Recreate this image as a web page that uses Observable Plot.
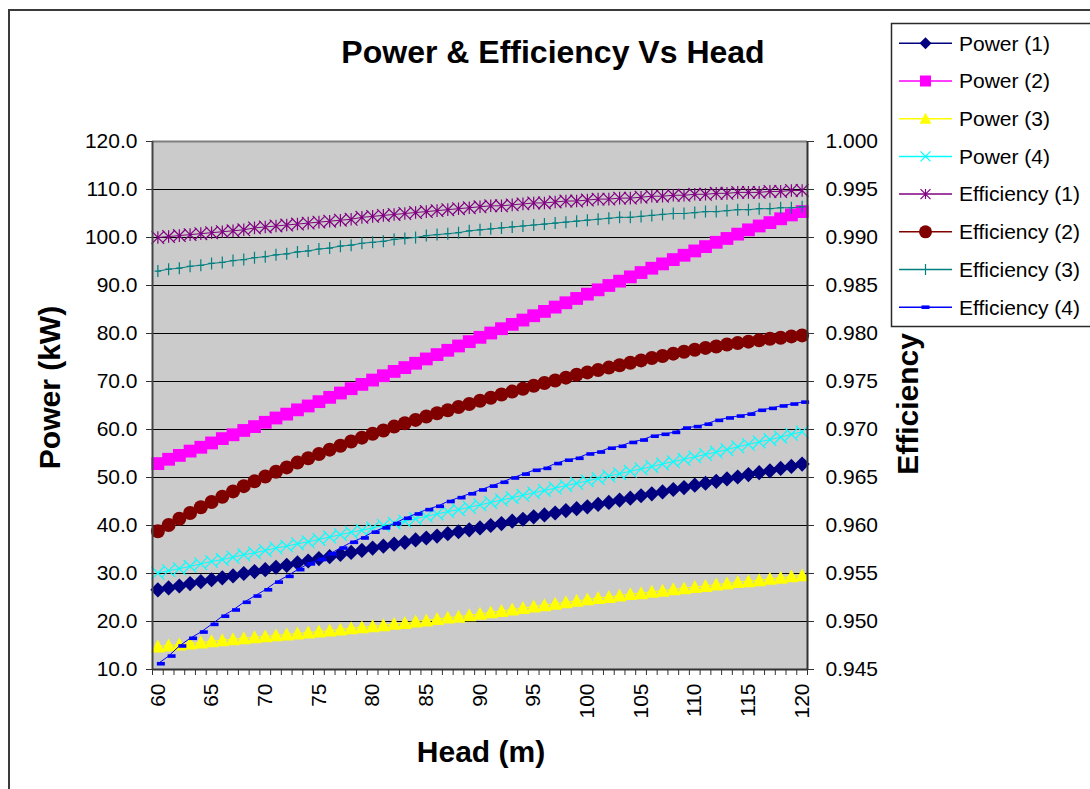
<!DOCTYPE html>
<html>
<head>
<meta charset="utf-8">
<script src="https://cdn.jsdelivr.net/npm/d3@7"></script>
<script src="https://cdn.jsdelivr.net/npm/@observablehq/plot@0.6"></script>
<style>
  html, body { margin: 0; padding: 0; background: #fff; }
  body { width: 1090px; height: 789px; overflow: hidden; position: relative;
         font-family: "Liberation Sans", Arial, sans-serif; }
  .layer { position: absolute; left: 0; top: 0; }
</style>
</head>
<body>
<svg class="layer" id="decor" width="1090" height="789">
  <path d="M9,789V10H1090" fill="none" stroke="#3a3a3a" stroke-width="2"/>
  <g font-family="'Liberation Sans', Arial, sans-serif" font-weight="bold" fill="#000">
    <text x="553" y="63.3" font-size="32" text-anchor="middle">Power &amp; Efficiency Vs Head</text>
    <text transform="translate(60,387.5) rotate(-90)" font-size="30" text-anchor="middle">Power (kW)</text>
    <text transform="translate(918.3,404) rotate(-90)" font-size="30" text-anchor="middle">Efficiency</text>
    <text x="481" y="762.3" font-size="30" text-anchor="middle">Head (m)</text>
  </g>
</svg>
<div class="layer" id="chart"></div>
<svg class="layer" id="legend" width="1090" height="789"></svg>
<script>
// Pump head (m), one category per metre
const heads = [60,61,62,63,64,65,66,67,68,69,70,71,72,73,74,75,76,77,78,79,80,81,82,83,84,85,86,87,88,89,
  90,91,92,93,94,95,96,97,98,99,100,101,102,103,104,105,106,107,108,109,110,111,112,113,114,115,116,117,118,119,120];

// Power (kW) for the four machines
const power1 = [26.6,27.0,27.4,27.9,28.3,28.7,29.1,29.5,30.0,30.4, 30.8,31.3,31.7,32.2,32.6,33.1,33.5,34.0,34.4,34.8,
  35.3,35.7,36.1,36.5,37.0,37.4,37.8,38.3,38.7,39.1, 39.5,40.0,40.4,40.9,41.3,41.8,42.2,42.6,43.1,43.5,
  43.9,44.4,44.8,45.3,45.7,46.2,46.6,47.0,47.5,47.9, 48.4,48.8,49.2,49.7,50.1,50.6,51.0,51.4,51.9,52.3, 52.8];
const power2 = [52.9,53.8,54.6,55.5,56.3,57.2,58.1,58.9,59.8,60.6, 61.5,62.4,63.2,64.1,64.9,65.8,66.7,67.6,68.5,69.4,
  70.3,71.2,72.1,72.9,73.8,74.7,75.6,76.5,77.4,78.3, 79.2,80.1,81.0,81.9,82.8,83.7,84.6,85.5,86.4,87.3,
  88.2,89.1,90.0,90.9,91.8,92.7,93.6,94.5,95.4,96.3, 97.2,98.1,99.0,99.8,100.7,101.6,102.4,103.1,103.9,104.7, 105.4];
const power3 = [14.8,15.0,15.2,15.4,15.6,15.9,16.1,16.3,16.5,16.7, 16.9,17.1,17.3,17.5,17.7,17.9,18.1,18.3,18.6,18.8,
  19.0,19.2,19.5,19.7,20.0,20.2,20.5,20.8,21.0,21.3, 21.6,21.9,22.2,22.5,22.8,23.1,23.4,23.7,24.0,24.3,
  24.6,24.9,25.1,25.4,25.7,25.9,26.2,26.4,26.7,26.9, 27.2,27.4,27.7,27.9,28.2,28.4,28.6,28.9,29.1,29.4, 29.6];
const power4 = [30.1,30.6,31.0,31.5,32.0,32.5,32.9,33.4,33.9,34.3, 34.8,35.3,35.7,36.2,36.6,37.1,37.6,38.1,38.6,39.0,
  39.5,40.0,40.5,40.9,41.4,41.9,42.4,42.9,43.3,43.8, 44.3,44.8,45.3,45.8,46.3,46.8,47.3,47.8,48.3,48.8,
  49.3,49.8,50.3,50.8,51.3,51.8,52.3,52.8,53.3,53.8, 54.3,54.8,55.3,55.8,56.4,56.9,57.4,57.9,58.4,59.0, 59.5];

// Efficiency (fraction) for the four machines
const eff1 = [0.9900,0.9901,0.9902,0.9903,0.9904,0.9905,0.9906,0.9907,0.9908,0.9910, 0.9911,0.9912,0.9913,0.9914,0.9915,0.9916,0.9917,0.9918,0.9919,0.9921,
  0.9922,0.9923,0.9924,0.9925,0.9926,0.9927,0.9928,0.9929,0.9930,0.9931, 0.9932,0.9933,0.9933,0.9934,0.9935,0.9936,0.9936,0.9937,0.9938,0.9938,
  0.9939,0.9940,0.9940,0.9941,0.9941,0.9942,0.9943,0.9943,0.9944,0.9944, 0.9945,0.9945,0.9946,0.9946,0.9947,0.9947,0.9947,0.9948,0.9948,0.9949, 0.9949];
const eff2 = [0.95940,0.96005,0.96070,0.96130,0.96190,0.96245,0.96300,0.96355,0.96410,0.96460, 0.96510,0.96560,0.96605,0.96655,0.96700,0.96745,0.96790,0.96830,0.96875,0.96915,
  0.96955,0.96990,0.97030,0.97065,0.97100,0.97135,0.97170,0.97200,0.97235,0.97265, 0.97300,0.97330,0.97365,0.97395,0.97425,0.97455,0.97485,0.97510,0.97540,0.97570,
  0.97595,0.97620,0.97645,0.97670,0.97695,0.97720,0.97745,0.97765,0.97790,0.97810, 0.97830,0.97850,0.97865,0.97885,0.97900,0.97915,0.97930,0.97945,0.97955,0.97970, 0.97980];
const eff3 = [0.9865,0.9867,0.9868,0.9870,0.9871,0.9873,0.9874,0.9876,0.9877,0.9879, 0.9880,0.9882,0.9883,0.9885,0.9886,0.9888,0.9889,0.9891,0.9892,0.9894,
  0.9895,0.9896,0.9898,0.9899,0.9900,0.9902,0.9903,0.9904,0.9905,0.9907, 0.9908,0.9909,0.9910,0.9911,0.9912,0.9913,0.9914,0.9915,0.9916,0.9917,
  0.9918,0.9919,0.9920,0.9921,0.9921,0.9922,0.9923,0.9924,0.9925,0.9925, 0.9926,0.9927,0.9927,0.9928,0.9929,0.9929,0.9930,0.9930,0.9931,0.9931, 0.9932];
const eff4 = [0.94560,0.94640,0.94745,0.94825,0.94890,0.94970,0.95055,0.95120,0.95200,0.95265, 0.95330,0.95410,0.95470,0.95540,0.95600,0.95645,0.95705,0.95765,0.95825,0.95870,
  0.95930,0.95975,0.96020,0.96075,0.96120,0.96165,0.96200,0.96250,0.96290,0.96330, 0.96370,0.96410,0.96450,0.96495,0.96535,0.96575,0.96595,0.96645,0.96680,0.96700,
  0.96745,0.96765,0.96805,0.96825,0.96865,0.96890,0.96930,0.96950,0.96970,0.97015, 0.97030,0.97055,0.97095,0.97120,0.97140,0.97160,0.97200,0.97220,0.97245,0.97265, 0.97285];

// Axis tick values
const powerTicks = [10,20,30,40,50,60,70,80,90,100,110,120];
const effTicks = [0.945,0.950,0.955,0.960,0.965,0.970,0.975,0.980,0.985,0.990,0.995,1.000];
const headLabels = [60,65,70,75,80,85,90,95,100,105,110,115,120];

// Series names and which axis they belong to
const seriesNames = ["Power (1)","Power (2)","Power (3)","Power (4)","Efficiency (1)","Efficiency (2)","Efficiency (3)","Efficiency (4)"];
const seriesValues = [power1, power2, power3, power4, eff1, eff2, eff3, eff4];
const seriesAxis = ["power","power","power","power","eff","eff","eff","eff"];

// The efficiency axis (right) shares the plot's y scale: 0.945 ↔ 10 kW, 1.000 ↔ 120 kW
const effToPower = e => 10 + (e - 0.945) * 2000;
const powerToEff = p => 0.945 + (p - 10) / 2000;

// Marker shapes (size is the area handed over by Plot.dot, r = sqrt(size/π))
const rad = s => Math.sqrt(s / Math.PI);
const symbols = {
  diamond: {draw(c, s) { const r = rad(s); c.moveTo(0, -r); c.lineTo(r, 0); c.lineTo(0, r); c.lineTo(-r, 0); c.closePath(); }},
  square: {draw(c, s) { const r = rad(s); c.rect(-r, -r, 2 * r, 2 * r); }},
  triangle: {draw(c, s) { const r = rad(s); c.moveTo(0, -r); c.lineTo(r, r * 0.85); c.lineTo(-r, r * 0.85); c.closePath(); }},
  cross: {draw(c, s) { const r = rad(s); c.moveTo(-r, -r); c.lineTo(r, r); c.moveTo(r, -r); c.lineTo(-r, r); }},
  asterisk: {draw(c, s) { const r = rad(s); c.moveTo(-r, -r); c.lineTo(r, r); c.moveTo(r, -r); c.lineTo(-r, r); c.moveTo(0, -r); c.lineTo(0, r); }},
  circle: {draw(c, s) { const r = rad(s); c.moveTo(r, 0); c.arc(0, 0, r, 0, 2 * Math.PI); }},
  plus: {draw(c, s) { const r = rad(s); c.moveTo(0, -r); c.lineTo(0, r); c.moveTo(-r * 0.55, 0); c.lineTo(r * 0.55, 0); }},
  dash: {draw(c, s) { const r = rad(s); c.rect(-r, -r * 0.45, 2 * r, r * 0.9); }}
};

// Per-series drawing style
const styles = [
  {color: "#000080", symbol: symbols.diamond,  r: 7.6,  filled: true,  legendR: 6},
  {color: "#ff00ff", symbol: symbols.square,   r: 6.4,  filled: true,  legendR: 5.5},
  {color: "#ffff00", symbol: symbols.triangle, r: 7,    filled: true,  legendR: 6},
  {color: "#00ffff", symbol: symbols.cross,    r: 6.3,  filled: false, legendR: 5},
  {color: "#800080", symbol: symbols.asterisk, r: 6.3,  filled: false, legendR: 5},
  {color: "#800000", symbol: symbols.circle,   r: 7,    filled: true,  legendR: 6.5},
  {color: "#008080", symbol: symbols.plus,     r: 6,    filled: false, legendR: 5.5},
  {color: "#0000ff", symbol: symbols.dash,     r: 4,    filled: true,  legendR: 4, dx: 3}
];

// Rows per series, positioned on the power scale
const tables = seriesValues.map((vals, i) =>
  heads.map((h, j) => ({
    series: seriesNames[i],
    head: h,
    value: vals[j],
    pos: seriesAxis[i] === "eff" ? effToPower(vals[j]) : vals[j]
  }))
);

// Category boundaries for the tick marks on the Head axis
const headBounds = heads.map(h => h - 0.5).concat([heads[heads.length - 1] + 0.5]);

const seriesMarks = tables.flatMap((rows, i) => {
  const st = styles[i];
  return [
    Plot.line(rows, {x: "head", y: "pos", stroke: st.color, strokeWidth: 1}),
    Plot.dot(rows, {
      x: "head", y: "pos", symbol: st.symbol, r: st.r, dx: st.dx || 0,
      fill: st.filled ? st.color : "none",
      stroke: st.filled ? "none" : st.color,
      strokeWidth: st.filled ? 0 : 1.2
    })
  ];
});

const chart = Plot.plot({
  width: 1090,
  height: 789,
  marginLeft: 152,
  marginRight: 283,
  marginTop: 141,
  marginBottom: 120,
  x: {domain: [heads[0] - 0.5, heads[heads.length - 1] + 0.5]},
  y: {domain: [powerTicks[0], powerTicks[powerTicks.length - 1]]},
  style: {background: "transparent", color: "#000", fontFamily: "'Liberation Sans', Arial, sans-serif", fontSize: "21px", overflow: "visible"},
  marks: [
    Plot.frame({fill: "#cbcbcb", stroke: null}),
    Plot.gridY(powerTicks.slice(1, -1), {stroke: "#000", strokeOpacity: 1, strokeWidth: 1}),
    Plot.ruleY([powerTicks[powerTicks.length - 1]], {stroke: "#7f7f7f", strokeWidth: 2}),
    ...seriesMarks,
    Plot.ruleY([powerTicks[0]], {stroke: "#333", strokeWidth: 2}),
    Plot.ruleX([headBounds[0]], {stroke: "#444", strokeWidth: 2}),
    Plot.ruleX([headBounds[headBounds.length - 1]], {stroke: "#333", strokeWidth: 2}),
    Plot.axisY(powerTicks, {anchor: "left", tickSize: 6, tickPadding: 9, tickFormat: d => d.toFixed(1), label: null, stroke: "#333"}),
    Plot.axisY(effTicks.map(effToPower), {anchor: "right", tickSize: 6, tickPadding: 12, tickFormat: p => powerToEff(p).toFixed(3), label: null, stroke: "#333"}),
    Plot.axisX(headBounds, {anchor: "bottom", tickSize: 6, tickFormat: () => "", label: null, stroke: "#333"}),
    Plot.axisX(headLabels, {anchor: "bottom", tickSize: 0, tickPadding: 14, tickRotate: -90, tickFormat: d => String(d), label: null})
  ]
});
document.getElementById("chart").appendChild(chart);

// Legend box on the right
const leg = d3.select("#legend");
leg.append("rect").attr("x", 891.5).attr("y", 23.5).attr("width", 260).attr("height", 303)
  .attr("fill", "#fff").attr("stroke", "#2a2a2a").attr("stroke-width", 1.5);
seriesNames.forEach((name, i) => {
  const st = styles[i];
  const cy = 43.3 + i * 37.7;
  leg.append("line").attr("x1", 899).attr("x2", 952).attr("y1", cy).attr("y2", cy)
    .attr("stroke", st.color).attr("stroke-width", 1.5);
  const p = d3.path();
  st.symbol.draw(p, Math.PI * st.legendR * st.legendR);
  leg.append("path").attr("d", p.toString()).attr("transform", `translate(925.5,${cy})`)
    .attr("fill", st.filled ? st.color : "none")
    .attr("stroke", st.filled ? "none" : st.color).attr("stroke-width", 1.2);
  leg.append("text").attr("x", 959).attr("y", cy).attr("dy", "0.35em")
    .attr("font-family", "'Liberation Sans', Arial, sans-serif").attr("font-size", 21)
    .attr("fill", "#000").text(name);
});
</script>
</body>
</html>
